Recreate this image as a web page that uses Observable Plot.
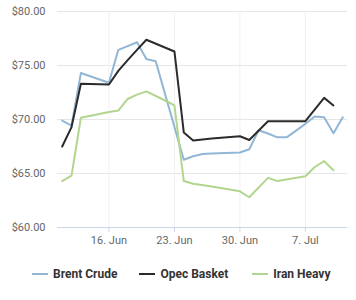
<!DOCTYPE html>
<html>
<head>
<meta charset="utf-8">
<script src="https://cdn.jsdelivr.net/npm/d3@7"></script>
<script src="https://cdn.jsdelivr.net/npm/@observablehq/plot@0.6"></script>
<style>
  html, body { margin: 0; padding: 0; background: #fff; }
  body { width: 356px; height: 300px; overflow: hidden; font-family: Roboto, "Noto Sans", sans-serif; }
  #legend { display: flex; justify-content: flex-start; gap: 0; margin-top: 12px; padding-left: 32px; font-size: 12px; font-weight: 700; color: #333; }
  .item { display: flex; align-items: center; }
  .sw { width: 16px; height: 2px; margin-right: 5px; }
</style>
</head>
<body>
<div id="chart"></div>
<div id="legend"></div>
<script>
const seriesNames = ["Brent Crude", "Opec Basket", "Iran Heavy"];
const seriesColors = ["#92b6d6", "#2b2b2b", "#b2d58f"];

const brentDates = ["2025-06-11","2025-06-12","2025-06-13","2025-06-16","2025-06-17","2025-06-18","2025-06-19","2025-06-20","2025-06-21","2025-06-24","2025-06-25","2025-06-26","2025-06-27","2025-06-30","2025-07-01","2025-07-02","2025-07-03","2025-07-04","2025-07-05","2025-07-07","2025-07-08","2025-07-09","2025-07-10","2025-07-11"];
const brentValues = [69.9, 69.44, 74.3, 73.4, 76.45, 76.8, 77.15, 75.6, 75.4, 66.27, 66.6, 66.8, 66.85, 66.95, 67.25, 69.0, 68.7, 68.35, 68.35, 69.6, 70.28, 70.2, 68.73, 70.2];

const opecDates = ["2025-06-11","2025-06-12","2025-06-13","2025-06-16","2025-06-17","2025-06-18","2025-06-19","2025-06-20","2025-06-23","2025-06-24","2025-06-25","2025-06-26","2025-06-27","2025-06-30","2025-07-01","2025-07-03","2025-07-07","2025-07-09","2025-07-10"];
const opecValues = [67.5, 69.3, 73.3, 73.24, 74.5, 75.5, 76.45, 77.38, 76.3, 68.8, 68.05, 68.15, 68.25, 68.45, 68.1, 69.84, 69.84, 72.0, 71.3];

const iranDates = ["2025-06-11","2025-06-12","2025-06-13","2025-06-16","2025-06-17","2025-06-18","2025-06-19","2025-06-20","2025-06-22","2025-06-23","2025-06-24","2025-06-25","2025-06-27","2025-06-30","2025-07-01","2025-07-03","2025-07-04","2025-07-07","2025-07-08","2025-07-09","2025-07-10"];
const iranValues = [64.3, 64.8, 70.16, 70.7, 70.83, 71.9, 72.3, 72.6, 71.76, 71.3, 64.3, 64.05, 63.8, 63.35, 62.8, 64.6, 64.3, 64.75, 65.6, 66.14, 65.3];

const yTicks = [60, 65, 70, 75, 80];
const xTicks = ["2025-06-16", "2025-06-23", "2025-06-30", "2025-07-07"];
const monthNames = ["Jan","Feb","Mar","Apr","May","Jun","Jul","Aug","Sep","Oct","Nov","Dec"];

function build(name, dates, values) {
  return dates.map((d, i) => ({series: name, date: new Date(d + "T00:00:00Z"), value: values[i]}));
}
const data = [
  ...build(seriesNames[0], brentDates, brentValues),
  ...build(seriesNames[1], opecDates, opecValues),
  ...build(seriesNames[2], iranDates, iranValues)
];
const xTickDates = xTicks.map(d => new Date(d + "T00:00:00Z"));

const chart = Plot.plot({
  width: 356,
  height: 255,
  marginLeft: 57,
  marginRight: 9,
  marginTop: 11,
  marginBottom: 28,
  style: {fontFamily: "Roboto, sans-serif", fontSize: "11px", color: "#666", background: "#fff"},
  x: {type: "utc", domain: [new Date("2025-06-10T12:00:00Z"), new Date("2025-07-11T12:00:00Z")]},
  y: {domain: [60, 80]},
  color: {domain: seriesNames, range: seriesColors},
  marks: [
    Plot.gridY(yTicks, {stroke: "#e6e6e6", strokeOpacity: 1}),
    Plot.gridX(xTickDates, {stroke: "#f0f0f0", strokeOpacity: 1}),
    Plot.ruleY([60], {stroke: "#ccd6eb"}),
    Plot.line(data, {x: "date", y: "value", z: "series", stroke: "series", strokeWidth: 2, curve: "linear"}),
    Plot.axisX(xTickDates, {tickSize: 5, tickPadding: 4, stroke: "#ccd6eb", fill: "#666", fontSize: 11,
      tickFormat: d => `${d.getUTCDate()}. ${monthNames[d.getUTCMonth()]}`, label: null}),
    Plot.axisY(yTicks, {tickSize: 0, tickPadding: 12, fill: "#666", fontSize: 11,
      tickFormat: d => "$" + d.toFixed(2), label: null})
  ]
});
document.getElementById("chart").appendChild(chart);

const legend = document.getElementById("legend");
const gaps = [0, 22, 24];
seriesNames.forEach((n, i) => {
  const item = document.createElement("div");
  item.className = "item";
  item.style.marginLeft = gaps[i] + "px";
  const sw = document.createElement("span");
  sw.className = "sw";
  sw.style.background = seriesColors[i];
  const t = document.createElement("span");
  t.textContent = n;
  item.appendChild(sw);
  item.appendChild(t);
  legend.appendChild(item);
});
</script>
</body>
</html>
